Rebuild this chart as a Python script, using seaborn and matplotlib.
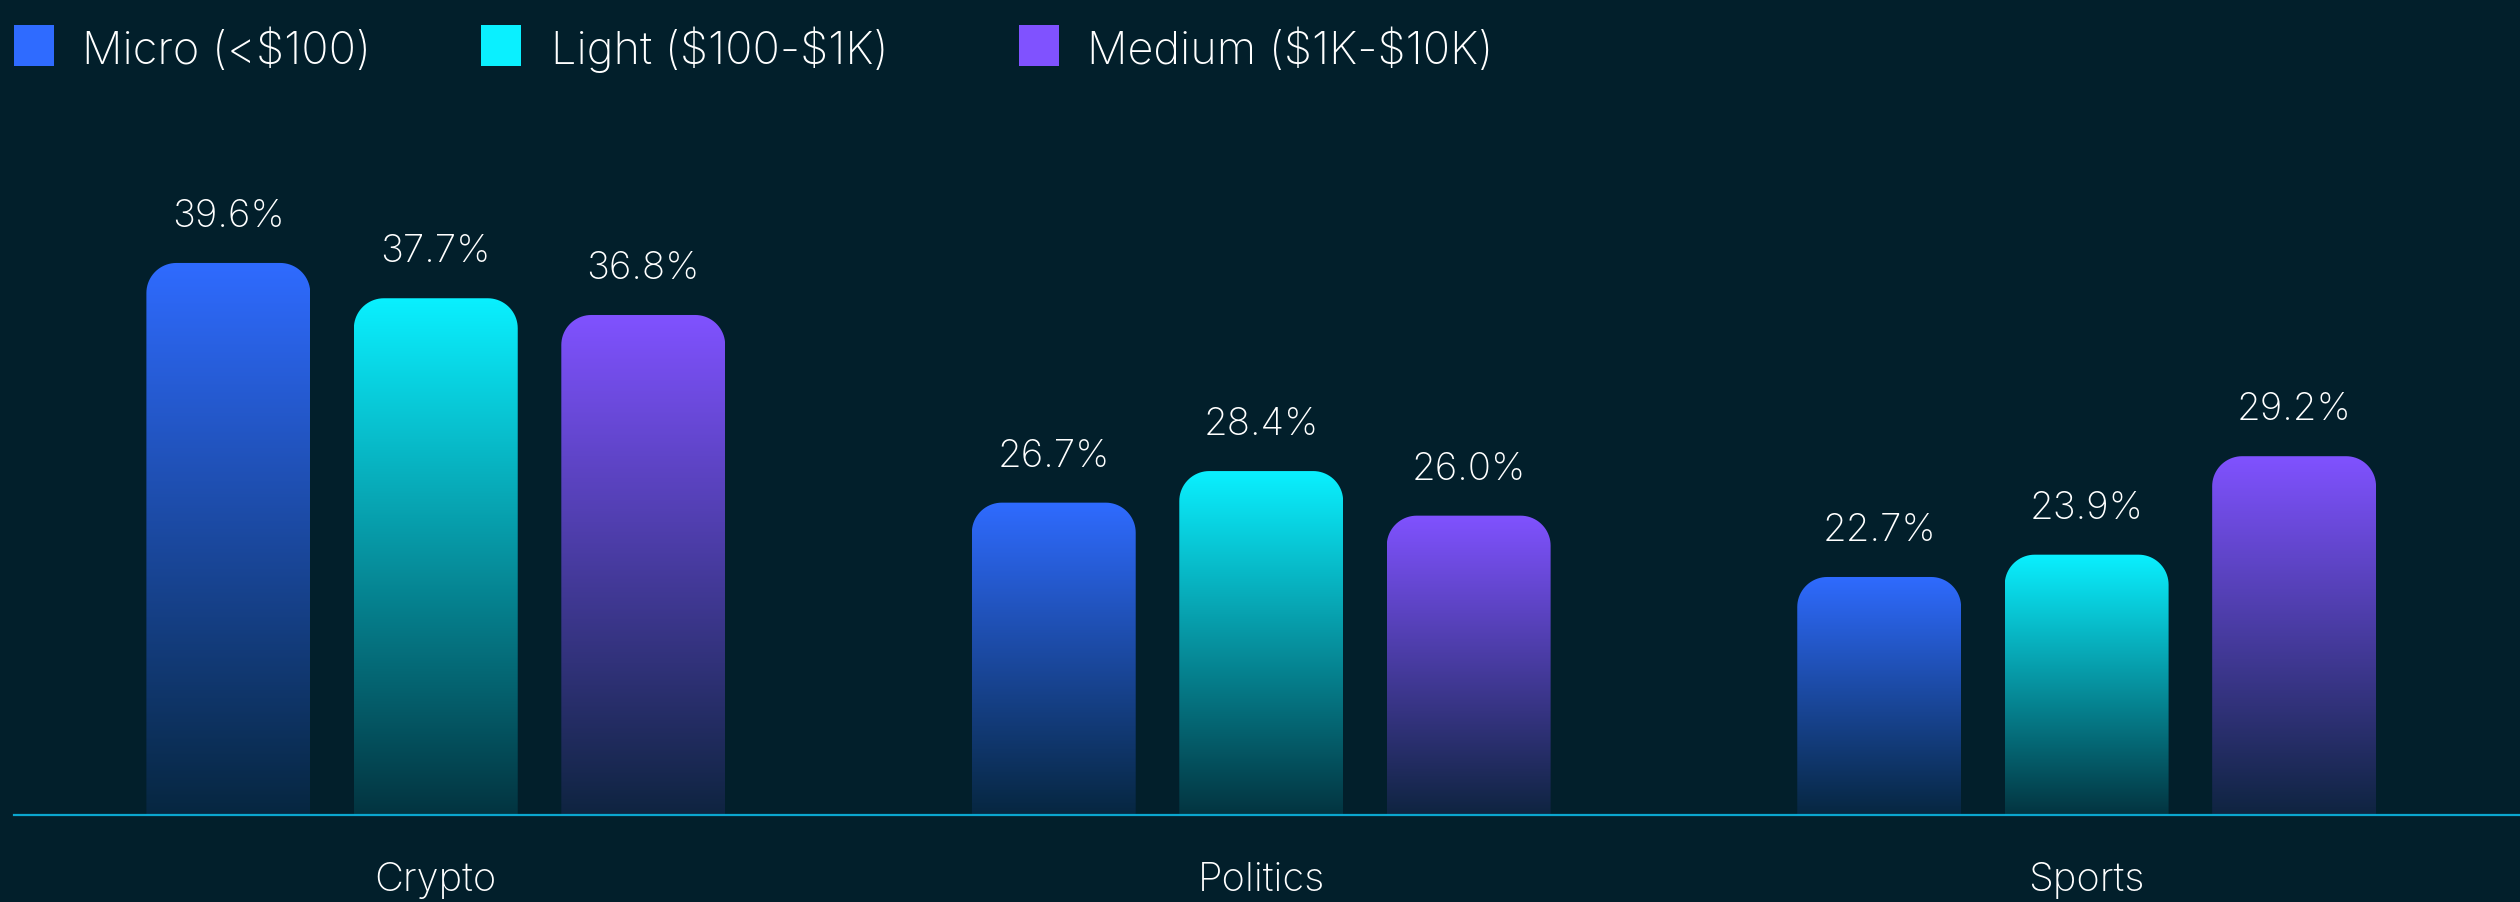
import numpy as np
import pandas as pd
import matplotlib
matplotlib.use("Agg")
import matplotlib.pyplot as plt
import seaborn as sns
from matplotlib.path import Path
from matplotlib.patches import PathPatch, Rectangle
from matplotlib.colors import to_rgb

# ---------------- data ----------------
categories = ["Crypto", "Politics", "Sports"]
segments = ["Micro (<$100)", "Light ($100-$1K)", "Medium ($1K-$10K)"]
micro = [39.6, 26.7, 22.7]
light = [37.7, 28.4, 23.9]
medium = [36.8, 26.0, 29.2]
colors = ["#2F6BFF", "#0AF0FF", "#8052FF"]

BG = "#021F2B"
AXIS_COLOR = "#0BA6CF"
FONT = ["Inter", "DejaVu Sans"]
WEIGHT = "light"

rows = []
for seg, vals in zip(segments, [micro, light, medium]):
    for cat, v in zip(categories, vals):
        rows.append({"category": cat, "segment": seg, "value": v})
df = pd.DataFrame(rows)

# ---------------- figure ----------------
W, H, DPI = 2520, 903, 100
sns.set_style("white")
plt.rcParams["font.family"] = FONT
plt.rcParams["text.parse_math"] = False
fig = plt.figure(figsize=(W / DPI, H / DPI), dpi=DPI, facecolor=BG)

ax_left, ax_right = 14, 2520
ax_bottom_px, ax_top_px = 816, 80
ax = fig.add_axes([ax_left / W, (H - ax_bottom_px) / H,
                   (ax_right - ax_left) / W, (ax_bottom_px - ax_top_px) / H])
ax.set_facecolor(BG)

sns.barplot(data=df, x="category", y="value", hue="segment",
            palette=colors, width=0.754, gap=0.21, ax=ax, legend=False,
            saturation=1)

y_lo, y_hi = 9.89, 49.5
x_lo, x_hi = -0.511, 2.525
ax.set_xlim(x_lo, x_hi)
ax.set_ylim(y_lo, y_hi)

# pixel -> data conversions for rounded corners
px_per_x = (ax_right - ax_left) / (x_hi - x_lo)
px_per_y = (ax_bottom_px - ax_top_px) / (y_hi - y_lo)
radius_px = 30
rx = radius_px / px_per_x
ry = radius_px / px_per_y

bg_rgb = np.array(to_rgb(BG))
n_grad = 256
t = np.linspace(0, 1, n_grad)[:, None]          # 0 top -> 1 bottom
alpha_col = 1.0 - 0.9 * t

def rounded_top_path(x0, x1, y0, top):
    verts = [(x0, y0), (x0, top - ry)]
    th = np.linspace(np.pi, np.pi / 2, 20)
    cx, cy = x0 + rx, top - ry
    verts += [(cx + rx * np.cos(a), cy + ry * np.sin(a)) for a in th]
    th = np.linspace(np.pi / 2, 0, 20)
    cx = x1 - rx
    verts += [(cx + rx * np.cos(a), cy + ry * np.sin(a)) for a in th]
    verts += [(x1, y0), (x0, y0)]
    codes = [Path.MOVETO] + [Path.LINETO] * (len(verts) - 2) + [Path.CLOSEPOLY]
    return Path(verts, codes)

for container, col in zip(ax.containers, colors):
    c = np.array(to_rgb(col))
    grad = c[None, :] * alpha_col + bg_rgb[None, :] * (1 - alpha_col)
    img = np.repeat(grad[:, None, :], 2, axis=1)
    for bar in container:
        x0 = bar.get_x()
        w = bar.get_width()
        top = bar.get_y() + bar.get_height()
        bar.set_visible(False)
        patch = PathPatch(rounded_top_path(x0, x0 + w, y_lo, top),
                          facecolor="none", edgecolor="none",
                          transform=ax.transData)
        ax.add_patch(patch)
        im = ax.imshow(img, extent=(x0, x0 + w, y_lo, top), aspect="auto",
                       origin="upper", interpolation="bilinear", zorder=2)
        im.set_clip_path(patch)
        ax.annotate(f"{top:.1f}%", xy=(x0 + w / 2, top), xytext=(0, 26.6),
                    textcoords="offset points", ha="center", va="baseline",
                    color="white", fontsize=27.7, family=FONT,
                    fontweight=WEIGHT)

ax.set_xlim(x_lo, x_hi)
ax.set_ylim(y_lo, y_hi)
ax.set_aspect("auto")

# axes styling
for s in ["top", "left", "right"]:
    ax.spines[s].set_visible(False)
ax.spines["bottom"].set_color(AXIS_COLOR)
ax.spines["bottom"].set_linewidth(1.6)
ax.set_yticks([])
ax.set_xlabel("")
ax.set_ylabel("")
ax.tick_params(axis="x", length=0, pad=33, colors="white", labelsize=28.7)
for lbl in ax.get_xticklabels():
    lbl.set_family(FONT)
    lbl.set_fontweight(WEIGHT)
    lbl.set_color("white")

# legend (top-left row)
leg_sq_x = [14, 481, 1019]
leg_tx_x = [82, 551, 1087]
for seg, col, sx, tx in zip(segments, colors, leg_sq_x, leg_tx_x):
    fig.patches.append(Rectangle((sx / W, (H - 67) / H), 40 / W, 41 / H,
                                 transform=fig.transFigure, facecolor=col,
                                 edgecolor="none"))
    fig.text(tx / W, (H - 64) / H, seg, color="white", fontsize=32.5,
             ha="left", va="baseline", family=FONT, fontweight=WEIGHT)

fig.savefig("out.png", dpi=DPI, facecolor=BG)
